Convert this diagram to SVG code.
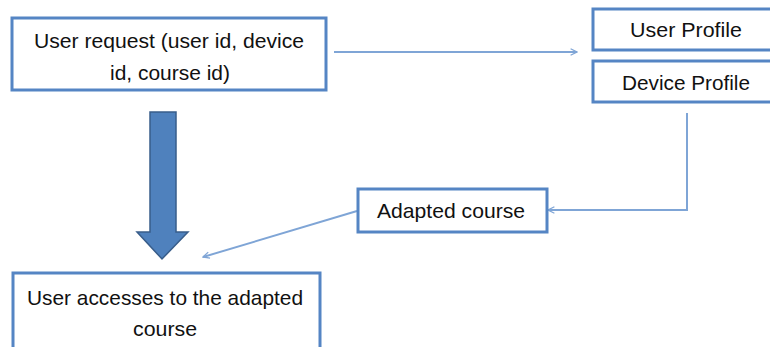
<svg xmlns="http://www.w3.org/2000/svg" width="770" height="347" viewBox="0 0 770 347">
  <style>
    .box { fill: #ffffff; stroke: #5585C4; stroke-width: 3; }
    .label { font-family: "Liberation Sans", Arial, sans-serif; font-size: 21px; fill: #111111; text-anchor: middle; }
    .link { fill: none; stroke: #7FA5D6; stroke-width: 2; }
  </style>
  <defs>
    <marker id="open-arrow" viewBox="0 0 10 10" refX="9" refY="5" markerWidth="4" markerHeight="4" orient="auto" markerUnits="strokeWidth">
      <path d="M1,1 L9,5 L1,9" fill="none" stroke="#7FA5D6" stroke-width="1.6"/>
    </marker>
  </defs>

  <rect width="770" height="347" fill="#ffffff"/>

  <g id="connectors">
    <line class="link" x1="334" y1="52" x2="577" y2="52" marker-end="url(#open-arrow)"/>
    <polyline class="link" points="687,113 687,210 548,210" marker-end="url(#open-arrow)"/>
    <line class="link" x1="357" y1="211" x2="203" y2="257" marker-end="url(#open-arrow)"/>
    <!-- block arrow from the request down to the access box -->
    <path d="M150,112 L176,112 L176,232 L188,232 L162,259 L137,232 L150,232 Z" fill="#4F81BD" stroke="#385D8A" stroke-width="1.5"/>
  </g>

  <g id="user-request">
    <rect class="box" x="12" y="18" width="314" height="72"/>
    <text class="label" x="169" y="48" textLength="270" lengthAdjust="spacingAndGlyphs">User request (user id, device</text>
    <text class="label" x="170" y="80" textLength="120" lengthAdjust="spacingAndGlyphs">id, course id)</text>
  </g>

  <g id="user-profile">
    <rect class="box" x="593" y="9" width="190" height="41"/>
    <text class="label" x="686" y="37" textLength="112" lengthAdjust="spacingAndGlyphs">User Profile</text>
  </g>

  <g id="device-profile">
    <rect class="box" x="593" y="61" width="190" height="41"/>
    <text class="label" x="686" y="90" textLength="128" lengthAdjust="spacingAndGlyphs">Device Profile</text>
  </g>

  <g id="adapted-course">
    <rect class="box" x="358" y="189" width="189" height="43"/>
    <text class="label" x="451" y="218" textLength="148" lengthAdjust="spacingAndGlyphs">Adapted course</text>
  </g>

  <g id="user-access">
    <rect class="box" x="13" y="273" width="307" height="90"/>
    <text class="label" x="165" y="305" textLength="276" lengthAdjust="spacingAndGlyphs">User accesses to the adapted</text>
    <text class="label" x="165" y="336" textLength="64" lengthAdjust="spacingAndGlyphs">course</text>
  </g>
</svg>
